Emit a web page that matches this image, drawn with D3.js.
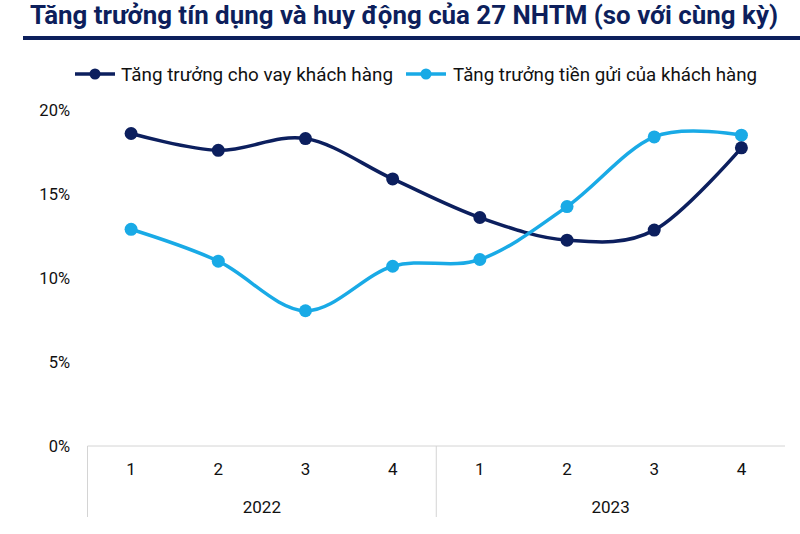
<!DOCTYPE html>
<html><head><meta charset="utf-8">
<script src="https://cdn.jsdelivr.net/npm/d3@7"></script>
<style>body{margin:0;background:#fff}svg{display:block}</style>
</head><body>
<svg id="c" width="800" height="534"></svg>
<script>
const title = "Tăng trưởng tín dụng và huy động của 27 NHTM (so với cùng kỳ)";
const quarters = ["1","2","3","4","1","2","3","4"];
const years = ["2022","2023"];
const seriesNames = ["Tăng trưởng cho vay khách hàng","Tăng trưởng tiền gửi của khách hàng"];
const loans = [18.6, 17.6, 18.3, 15.9, 13.6, 12.25, 12.85, 17.75];
const deposits = [12.9, 11.0, 8.05, 10.7, 11.1, 14.25, 18.4, 18.5];
const yTicks = [0,5,10,15,20];
const colors = ["#0c1f5e","#19aae6"];

(function(){
const svg = d3.select("#c");
const W=800,H=534;
const pL=87.5,pR=785,pT=110,pB=446;
const idx = d3.range(quarters.length);
const x = d3.scaleBand().domain(idx).range([pL,pR]);
const y = d3.scaleLinear().domain([0,20]).range([pB,pT]);

// title
svg.append("text").attr("x",30).attr("y",23.5)
  .attr("font-family","Roboto, 'Liberation Sans', sans-serif").attr("font-weight",700)
  .attr("font-size",26).attr("fill","#0d1f5c")
  .attr("textLength",748).attr("lengthAdjust","spacingAndGlyphs").text(title);
svg.append("rect").attr("x",23).attr("y",36).attr("width",W-23).attr("height",4).attr("fill","#0d1f5c");

// legend
const leg = [{x0:75,x1:115,tx:121,tl:272},{x0:406,x1:446,tx:453,tl:304}];
leg.forEach((l,i)=>{
  const g=svg.append("g");
  g.append("line").attr("x1",l.x0).attr("x2",l.x1).attr("y1",74).attr("y2",74)
    .attr("stroke",colors[i]).attr("stroke-width",3.5);
  g.append("circle").attr("cx",(l.x0+l.x1)/2).attr("cy",74).attr("r",5.5).attr("fill",colors[i]);
  g.append("text").attr("x",l.tx).attr("y",80.5).attr("font-family","Roboto, sans-serif")
    .attr("font-size",19).attr("fill","#111")
    .attr("textLength",l.tl).attr("lengthAdjust","spacingAndGlyphs").text(seriesNames[i]);
});

// y axis labels
const yAxis = d3.axisLeft(y).tickValues(yTicks).tickFormat(d=>d+"%").tickSize(0).tickPadding(0);
const ya = svg.append("g").attr("transform",`translate(70,0)`).call(yAxis);
ya.select(".domain").remove();
ya.selectAll("text").attr("font-family","Roboto, sans-serif").attr("font-size",16.5).attr("fill","#111");

// x axis frame
const grid="#d4d4d4";
svg.append("line").attr("x1",pL).attr("x2",pR).attr("y1",pB).attr("y2",pB).attr("stroke",grid).attr("stroke-width",1);
const yearEdges=[pL, x(4), pR];
[pL, x(4)].forEach(v=>svg.append("line").attr("x1",v).attr("x2",v).attr("y1",pB).attr("y2",517).attr("stroke",grid).attr("stroke-width",1));
const xAxis = d3.axisBottom(x).tickFormat(i=>quarters[i]).tickSize(0).tickPadding(0);
const xa = svg.append("g").attr("transform",`translate(0,${pB+17})`).call(xAxis);
xa.select(".domain").remove();
xa.selectAll("text").attr("font-family","Roboto, sans-serif").attr("font-size",17).attr("fill","#111");
years.forEach((yr,i)=>{
  svg.append("text").attr("x",(yearEdges[i]+yearEdges[i+1])/2).attr("y",513).attr("text-anchor","middle")
    .attr("font-family","Roboto, sans-serif").attr("font-size",17).attr("fill","#111").text(yr);
});

// lines
const series=[loans,deposits];
const line = d3.line().x((d,i)=>x(i)+x.bandwidth()/2).y(d=>y(d)).curve(d3.curveCardinal.tension(0));
series.forEach((s,k)=>svg.append("path").datum(s).attr("d",line).attr("fill","none")
  .attr("stroke",colors[k]).attr("stroke-width",3.5));
[1,0].forEach(k=>svg.append("g").selectAll("circle").data(series[k]).join("circle")
  .attr("cx",(d,i)=>x(i)+x.bandwidth()/2).attr("cy",d=>y(d)).attr("r",6.5).attr("fill",colors[k]));
})();
</script>
</body></html>
